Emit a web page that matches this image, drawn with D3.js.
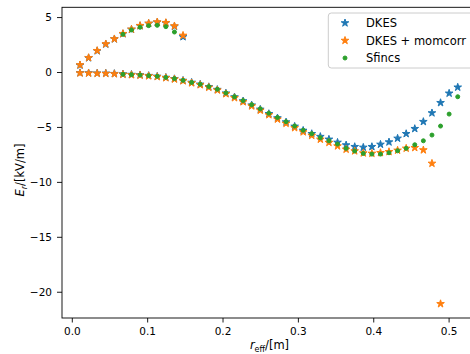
<!DOCTYPE html>
<html>
<head>
<meta charset="utf-8">
<script src="https://cdn.jsdelivr.net/npm/d3@7"></script>
<style>
  html, body { margin: 0; padding: 0; background: #fff; }
  svg { display: block; font-family: "DejaVu Sans", sans-serif; }
</style>
</head>
<body>
<svg id="chart" width="470" height="354"></svg>
<script>
// ---- data ----
const rEff = [0.0109, 0.0223, 0.0337, 0.0451, 0.0565, 0.0679, 0.0792, 0.0906, 0.1020, 0.1134,
              0.1248, 0.1362, 0.1476, 0.1590, 0.1704, 0.1818, 0.1931, 0.2045, 0.2159, 0.2273,
              0.2387, 0.2501, 0.2615, 0.2729, 0.2843, 0.2957, 0.3070, 0.3184, 0.3298, 0.3412,
              0.3526, 0.3640, 0.3754, 0.3868, 0.3982, 0.4096, 0.4209, 0.4323, 0.4437, 0.4551,
              0.4665, 0.4779, 0.4893, 0.5007, 0.5121];

// upper (positive) root, radii rEff[0..12]
const dkesUpper    = [0.62, 1.28, 1.92, 2.53, 3.00, 3.47, 3.87, 4.20, 4.41, 4.52, 4.46, 4.15, 3.20];
const momcorrUpper = [0.64, 1.30, 1.94, 2.55, 3.01, 3.49, 3.89, 4.22, 4.43, 4.55, 4.49, 4.19, 3.33];
// Sfincs upper root, radii rEff[5..11]
const sfincsUpper  = [3.43, 3.83, 4.07, 4.22, 4.25, 4.13, 3.64];

// lower (negative) root
// DKES: radii rEff[0..44]
const dkesLower = [-0.08, -0.09, -0.11, -0.12, -0.15, -0.19, -0.23, -0.27, -0.33, -0.40,
                   -0.50, -0.62, -0.77, -0.95, -1.12, -1.35, -1.60, -1.93, -2.28, -2.64,
                   -3.02, -3.40, -3.80, -4.19, -4.56, -4.95, -5.32, -5.62, -5.88, -6.13,
                   -6.41, -6.65, -6.80, -6.86, -6.80, -6.59, -6.38, -6.04, -5.62, -5.16,
                   -4.52, -3.73, -2.80, -1.94, -1.39];
// DKES + momcorr: radii rEff[0..42]
const momcorrLower = [-0.10, -0.11, -0.13, -0.14, -0.17, -0.22, -0.26, -0.30, -0.36, -0.43,
                      -0.53, -0.65, -0.81, -1.00, -1.17, -1.40, -1.65, -1.99, -2.35, -2.72,
                      -3.10, -3.49, -3.90, -4.30, -4.68, -5.08, -5.46, -5.78, -6.13, -6.42,
                      -6.74, -7.04, -7.19, -7.38, -7.41, -7.35, -7.26, -7.13, -6.95, -6.89,
                      -7.10, -8.32, -21.10];
// Sfincs: radii rEff[5..44]
const sfincsLower = [-0.21, -0.24, -0.27, -0.33, -0.39, -0.49, -0.60, -0.76, -0.95, -1.11,
                     -1.33, -1.57, -1.90, -2.25, -2.60, -2.97, -3.35, -3.75, -4.14, -4.52,
                     -4.92, -5.30, -5.62, -5.98, -6.26, -6.56, -6.95, -7.19, -7.41, -7.47,
                     -7.47, -7.35, -7.17, -6.95, -6.62, -6.26, -5.74, -4.92, -3.83, -2.25];

const xTicks = [0.0, 0.1, 0.2, 0.3, 0.4, 0.5];
const yTicks = [-20, -15, -10, -5, 0, 5];
const seriesNames = ["DKES", "DKES + momcorr", "Sfincs"];
const seriesColors = ["#1f77b4", "#ff7f0e", "#2ca02c"];

(function () {
// ---- build point lists ----
function pts(values, offset) { return values.map((v, i) => ({ r: rEff[i + offset], e: v })); }
const dkesPts = pts(dkesUpper, 0).concat(pts(dkesLower, 0));
const momPts = pts(momcorrUpper, 0).concat(pts(momcorrLower, 0));
const sfPts = pts(sfincsUpper, 5).concat(pts(sfincsLower, 5));

// ---- layout ----
const svg = d3.select("#chart");
const pLeft = 62, pRight = 478, pTop = 7.3, pBottom = 318;

const x = d3.scaleLinear().domain([-0.013, 0.539]).range([pLeft, pRight]);
const y = d3.scaleLinear().domain([-22.39, 5.89]).range([pBottom, pTop]);

svg.append("rect").attr("width", 470).attr("height", 354).attr("fill", "#fff");

const starR = 4.0;
const star = d3.symbol().type(d3.symbolStar).size(starR * starR / 0.8908130915292852);

function drawStars(data, color) {
  svg.append("g").selectAll("path").data(data).join("path")
    .attr("d", star)
    .attr("transform", d => `translate(${x(d.r)},${y(d.e)})`)
    .attr("fill", color).attr("stroke", color).attr("stroke-width", 1)
    .attr("stroke-linejoin", "round");
}
drawStars(dkesPts, seriesColors[0]);
drawStars(momPts, seriesColors[1]);
svg.append("g").selectAll("circle").data(sfPts).join("circle")
  .attr("cx", d => x(d.r)).attr("cy", d => y(d.e)).attr("r", 2)
  .attr("fill", seriesColors[2]).attr("stroke", seriesColors[2]).attr("stroke-width", 1);

// ---- axes ----
const xAxis = d3.axisBottom(x).tickValues(xTicks).tickFormat(d3.format(".1f"))
  .tickSize(4.5).tickPadding(5.5).tickSizeOuter(0);
const yAxis = d3.axisLeft(y).tickValues(yTicks).tickFormat(d3.format("d"))
  .tickSize(5).tickPadding(5).tickSizeOuter(0);

const gx = svg.append("g").attr("transform", `translate(0,${pBottom})`).call(xAxis);
const gy = svg.append("g").attr("transform", `translate(${pLeft},0)`).call(yAxis);
[gx, gy].forEach(g => {
  g.select(".domain").remove();
  g.selectAll("line").attr("stroke", "#000").attr("stroke-width", 0.9);
  g.selectAll("text").attr("fill", "#000").attr("font-size", "10.5px")
    .attr("font-family", "DejaVu Sans, sans-serif");
});

// frame (spines)
svg.append("rect").attr("x", pLeft).attr("y", pTop)
  .attr("width", pRight - pLeft).attr("height", pBottom - pTop)
  .attr("fill", "none").attr("stroke", "#000").attr("stroke-width", 0.9);

// ---- axis labels ----
const xl = svg.append("text").attr("x", 269.5).attr("y", 349)
  .attr("text-anchor", "middle").attr("font-size", "11.5px").attr("fill", "#000");
xl.append("tspan").attr("font-style", "italic").text("r");
xl.append("tspan").attr("font-size", "8px").attr("dy", 2.5).attr("font-style", "normal").text("eff");
xl.append("tspan").attr("dy", -2.5).text("/[m]");

const yl = svg.append("text").attr("transform", "translate(24,170) rotate(-90)")
  .attr("text-anchor", "middle").attr("font-size", "11.5px").attr("fill", "#000");
yl.append("tspan").attr("font-style", "italic").text("E");
yl.append("tspan").attr("font-size", "8px").attr("font-style", "italic").attr("dy", 2.5).text("r");
yl.append("tspan").attr("dy", -2.5).text("/[kV/m]");

// ---- legend ----
const leg = svg.append("g");
leg.append("rect").attr("x", 328.3).attr("y", 13).attr("width", 145).attr("height", 55)
  .attr("rx", 3).attr("fill", "#fff").attr("fill-opacity", 0.8)
  .attr("stroke", "#cccccc").attr("stroke-width", 1);
const rowY = [23, 40.5, 58];
seriesNames.forEach((name, i) => {
  if (i < 2) {
    leg.append("path").attr("d", star).attr("transform", `translate(345,${rowY[i]})`)
      .attr("fill", seriesColors[i]).attr("stroke", seriesColors[i]).attr("stroke-width", 1)
      .attr("stroke-linejoin", "round");
  } else {
    leg.append("circle").attr("cx", 345).attr("cy", rowY[i]).attr("r", 2)
      .attr("fill", seriesColors[i]).attr("stroke", seriesColors[i]).attr("stroke-width", 1);
  }
  leg.append("text").attr("x", 366).attr("y", rowY[i]).attr("dy", "0.36em")
    .attr("font-size", "11.5px").attr("fill", "#000").text(name);
});
})();
</script>
</body>
</html>
